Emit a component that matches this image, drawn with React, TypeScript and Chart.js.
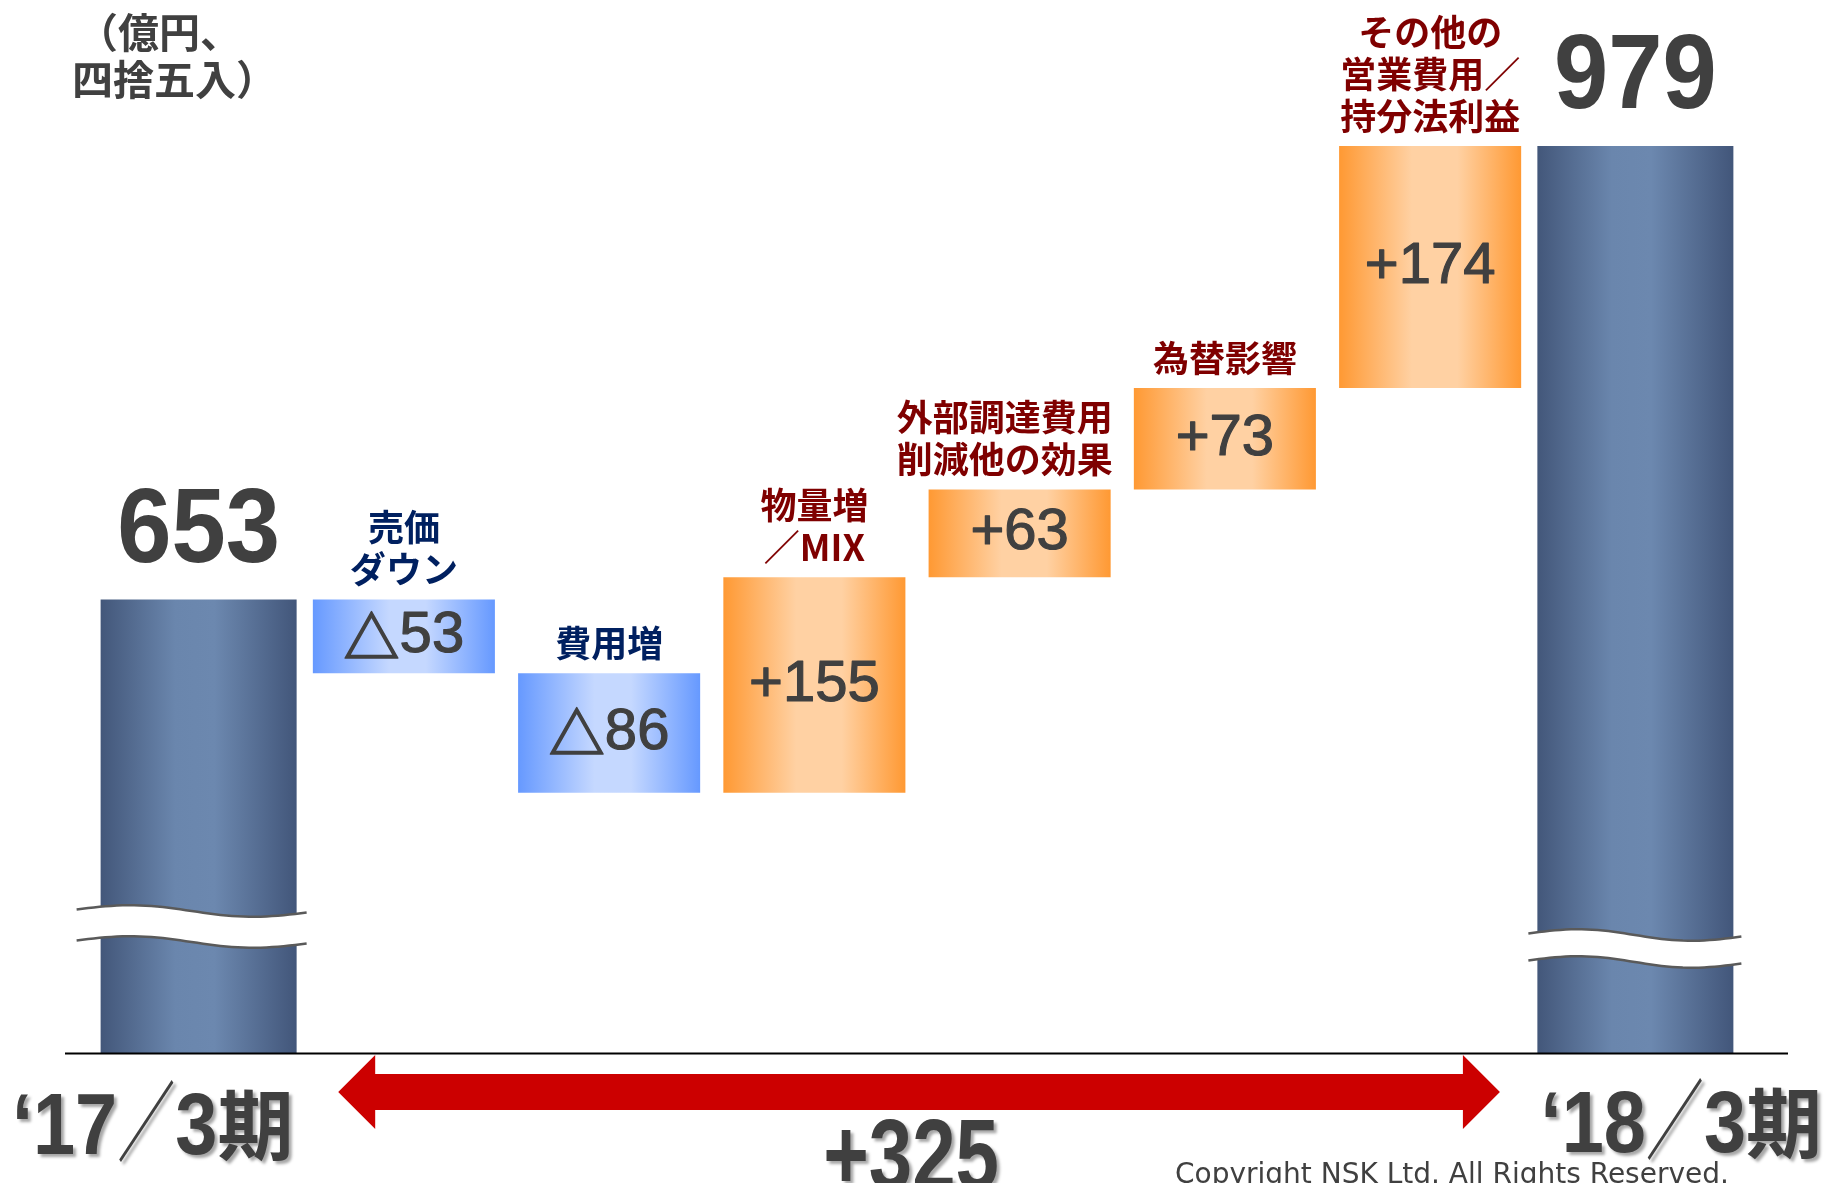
import React, { useEffect, useRef } from "react";
import { Chart, registerables } from "chart.js";

Chart.register(...registerables);

// ---------- data ----------
const CATEGORIES = [
  "‘17／3期",
  "売価ダウン",
  "費用増",
  "物量増／MIX",
  "外部調達費用削減他の効果",
  "為替影響",
  "その他の営業費用／持分法利益",
  "‘18／3期",
];
const STEP_LABELS = [
  ["売価", "ダウン"],
  ["費用増"],
  ["物量増", "／MIX"],
  ["外部調達費用", "削減他の効果"],
  ["為替影響"],
  ["その他の", "営業費用／", "持分法利益"],
];
const START_VALUE = 653;
const END_VALUE = 979;
const STEP_VALUES = [-53, -86, 155, 63, 73, 174];
const TOTAL_CHANGE = 325; // as printed (rounded)
const AXIS_BASE = 327; // value at the broken baseline
const PERIOD_LABELS = ["‘17／3期", "‘18／3期"];
const UNIT_LINES = ["（億円、", "四捨五入）"];
const COPYRIGHT = "Copyright NSK Ltd. All Rights Reserved.";

// ---------- styles ----------
const FONT_JP = '"Noto Sans CJK JP", sans-serif';
const FONT_LAT = '"Liberation Sans", Arial, "Noto Sans CJK JP", sans-serif';
const TEXT_GRAY = "#404040";
const TOTAL_STOPS: [number, string][] = [
  [0, "#43577A"],
  [0.38, "#6A86AD"],
  [0.58, "#6C88AF"],
  [1, "#42567A"],
];
const DOWN_STOPS: [number, string][] = [
  [0, "#6699FF"],
  [0.42, "#C5D8FF"],
  [0.62, "#C5D8FF"],
  [1, "#6699FF"],
];
const UP_STOPS: [number, string][] = [
  [0, "#FF9933"],
  [0.4, "#FFD1A3"],
  [0.65, "#FFD1A3"],
  [1, "#FF9933"],
];
const TOTAL_BAR_PCT = 0.955;
const STEP_BAR_PCT = 0.887;

function makeGrad(chart: any, index: number, pct: number, stops: [number, string][]) {
  const { ctx, chartArea, scales } = chart;
  if (!chartArea || !scales.x) return stops[0][1];
  const cw = (chartArea.right - chartArea.left) / CATEGORIES.length;
  const cx = scales.x.getPixelForValue(index);
  const half = (cw * pct) / 2;
  const g = ctx.createLinearGradient(cx - half, 0, cx + half, 0);
  stops.forEach(([o, c]) => g.addColorStop(o, c));
  return g;
}

type Seg = { t: string; font: string; sx: number; stroke?: number };
function drawSegs(ctx: CanvasRenderingContext2D, segs: Seg[], x: number, y: number, align: "left" | "right" | "center") {
  const widths = segs.map((s) => {
    ctx.font = s.font;
    return ctx.measureText(s.t).width * s.sx;
  });
  const total = widths.reduce((a, b) => a + b, 0);
  let cx = align === "left" ? x : align === "right" ? x - total : x - total / 2;
  segs.forEach((s, i) => {
    ctx.save();
    ctx.font = s.font;
    ctx.textAlign = "left";
    ctx.translate(cx, y);
    ctx.scale(s.sx, 1);
    ctx.fillText(s.t, 0, 0);
    if (s.stroke) {
      ctx.shadowColor = "transparent";
      ctx.strokeStyle = ctx.fillStyle as string;
      ctx.lineWidth = s.stroke;
      ctx.lineJoin = "round";
      ctx.strokeText(s.t, 0, 0);
    }
    ctx.restore();
    cx += widths[i];
  });
}

function periodSegs(label: string): Seg[] {
  const m = label.match(/^(.+?)／(\d+)(.+)$/);
  const year = m ? m[1] : label;
  const month = m ? m[2] : "";
  const suffix = m ? m[3] : "";
  return [
    { t: year, font: `bold 88px ${FONT_LAT}`, sx: 0.86 },
    { t: "／", font: `normal 88px ${FONT_JP}`, sx: 0.66 },
    { t: month, font: `bold 88px ${FONT_LAT}`, sx: 0.86 },
    { t: suffix, font: `bold 76px ${FONT_JP}`, sx: 1 },
  ];
}

function wave(ctx: CanvasRenderingContext2D, x0: number, x1: number, yc: number, amp: number, tilt: number, reverse = false) {
  const n = 40;
  for (let k = 0; k <= n; k++) {
    const t = reverse ? 1 - k / n : k / n;
    const px = x0 + t * (x1 - x0);
    const py = yc - amp * Math.sin(2 * Math.PI * t) + tilt * t;
    if (k === 0 && !reverse) ctx.moveTo(px, py);
    else ctx.lineTo(px, py);
  }
}

function drawBreak(ctx: CanvasRenderingContext2D, x0: number, x1: number, yc: number, gap: number) {
  const amp = 5;
  const tilt = 3;
  ctx.save();
  ctx.beginPath();
  wave(ctx, x0, x1, yc - gap / 2, amp, tilt);
  wave(ctx, x0, x1, yc + gap / 2, amp, tilt, true);
  ctx.closePath();
  ctx.fillStyle = "#ffffff";
  ctx.fill();
  ctx.strokeStyle = "#5a5a5a";
  ctx.lineWidth = 2.5;
  ctx.beginPath();
  wave(ctx, x0, x1, yc - gap / 2, amp, tilt);
  ctx.stroke();
  ctx.beginPath();
  wave(ctx, x0, x1, yc + gap / 2, amp, tilt);
  ctx.stroke();
  ctx.restore();
}

const overlayPlugin = {
  id: "overlay",
  afterDatasetsDraw(chart: any) {
    const { ctx, chartArea, scales } = chart;
    const totals = chart.getDatasetMeta(0).data;
    const steps = chart.getDatasetMeta(1).data;
    const n = CATEGORIES.length;
    ctx.save();

    // broken-axis marks on the two total bars
    const first = totals[0].getProps(["x", "width"], true);
    const last = totals[n - 1].getProps(["x", "width"], true);
    drawBreak(ctx, first.x - first.width / 2 - 24, first.x + first.width / 2 + 10, chartArea.bottom - 128, 31);
    drawBreak(ctx, last.x - last.width / 2 - 9, last.x + last.width / 2 + 8, chartArea.bottom - 106, 27);

    // baseline
    ctx.strokeStyle = "#000";
    ctx.lineWidth = 2;
    ctx.beginPath();
    ctx.moveTo(chartArea.left - 31, chartArea.bottom + 0.5);
    ctx.lineTo(chartArea.right + 50, chartArea.bottom + 0.5);
    ctx.stroke();

    // total labels
    ctx.fillStyle = TEXT_GRAY;
    ctx.textBaseline = "alphabetic";
    [
      [0, START_VALUE],
      [n - 1, END_VALUE],
    ].forEach(([idx, v]) => {
      const el = totals[idx].getProps(["x", "y", "base"], true);
      const top = Math.min(el.y, el.base);
      drawSegs(ctx, [{ t: String(v), font: `bold 106px ${FONT_LAT}`, sx: 0.92 }], el.x, top - 38, "center");
    });

    // step bars: value inside, caption above
    for (let i = 1; i < n - 1; i++) {
      const el = steps[i].getProps(["x", "y", "base", "width"], true);
      const v = STEP_VALUES[i - 1];
      const top = Math.min(el.y, el.base);
      const bottom = Math.max(el.y, el.base);
      ctx.fillStyle = TEXT_GRAY;
      ctx.textBaseline = "middle";
      const valSegs: Seg[] =
        v < 0
          ? [
              { t: "△", font: `bold 56px ${FONT_JP}`, sx: 1, stroke: 1.5 },
              { t: String(Math.abs(v)), font: `normal 58px ${FONT_LAT}`, sx: 1, stroke: 1.2 },
            ]
          : [{ t: "+" + v, font: `normal 58px ${FONT_LAT}`, sx: 1, stroke: 1.2 }];
      drawSegs(ctx, valSegs, el.x, (top + bottom) / 2, "center");

      const lines = STEP_LABELS[i - 1];
      ctx.fillStyle = v < 0 ? "#002060" : "#7F0000";
      ctx.font = `bold 36px ${FONT_JP}`;
      lines.forEach((line, k) => {
        const cy = top - 30 - (lines.length - 1 - k) * 42;
        const w = ctx.measureText(line).width;
        if (w > el.width) {
          ctx.textAlign = "right";
          ctx.fillText(line, el.x + el.width / 2 + 2, cy);
        } else {
          ctx.textAlign = "center";
          ctx.fillText(line, el.x, cy);
        }
      });
    }

    // unit note
    ctx.fillStyle = TEXT_GRAY;
    ctx.font = `bold 41px ${FONT_JP}`;
    ctx.textAlign = "left";
    ctx.textBaseline = "middle";
    ctx.fillText(UNIT_LINES[0], 77, 32);
    ctx.fillText(UNIT_LINES[1], 72, 79);

    // red double arrow
    const cw = (chartArea.right - chartArea.left) / n;
    const ax0 = scales.x.getPixelForValue(1) - 0.32 * cw;
    const ax1 = scales.x.getPixelForValue(n - 2) + 0.34 * cw;
    const ay = chartArea.bottom + 39;
    const head = 37;
    const hh = 37;
    const sh = 18;
    ctx.fillStyle = "#CC0000";
    ctx.beginPath();
    ctx.moveTo(ax0, ay);
    ctx.lineTo(ax0 + head, ay - hh);
    ctx.lineTo(ax0 + head, ay - sh);
    ctx.lineTo(ax1 - head, ay - sh);
    ctx.lineTo(ax1 - head, ay - hh);
    ctx.lineTo(ax1, ay);
    ctx.lineTo(ax1 - head, ay + hh);
    ctx.lineTo(ax1 - head, ay + sh);
    ctx.lineTo(ax0 + head, ay + sh);
    ctx.lineTo(ax0 + head, ay + hh);
    ctx.closePath();
    ctx.fill();

    // shadowed period labels and total change
    ctx.save();
    ctx.fillStyle = TEXT_GRAY;
    ctx.textBaseline = "alphabetic";
    ctx.shadowColor = "rgba(0,0,0,0.35)";
    ctx.shadowOffsetX = 3;
    ctx.shadowOffsetY = 3;
    ctx.shadowBlur = 3;
    drawSegs(ctx, periodSegs(PERIOD_LABELS[0]), 12, 1154, "left");
    drawSegs(ctx, periodSegs(PERIOD_LABELS[1]), chart.width - 6, 1152, "right");
    drawSegs(ctx, [{ t: "+" + TOTAL_CHANGE, font: `bold 100px ${FONT_LAT}`, sx: 0.78 }], (ax0 + ax1) / 2 - 8, 1189, "center");
    ctx.restore();

    // copyright
    ctx.fillStyle = TEXT_GRAY;
    ctx.font = `normal 28px "DejaVu Sans", Verdana, sans-serif`;
    ctx.textAlign = "left";
    ctx.textBaseline = "alphabetic";
    ctx.fillText(COPYRIGHT, 1175, 1183, 562);

    ctx.restore();
  },
};

export default function App() {
  const ref = useRef<HTMLCanvasElement | null>(null);
  useEffect(() => {
    if (!ref.current) return;
    const n = CATEGORIES.length;
    const totalData: any[] = CATEGORIES.map(() => null);
    totalData[0] = [AXIS_BASE, START_VALUE];
    totalData[n - 1] = [AXIS_BASE, END_VALUE];
    const stepData: any[] = CATEGORIES.map(() => null);
    let run = START_VALUE;
    STEP_VALUES.forEach((v, i) => {
      stepData[i + 1] = [run, run + v];
      run += v;
    });

    const chart = new Chart(ref.current, {
      type: "bar",
      data: {
        labels: CATEGORIES,
        datasets: [
          {
            data: totalData,
            grouped: false,
            barPercentage: TOTAL_BAR_PCT,
            categoryPercentage: 1,
            borderWidth: 0,
            borderSkipped: false,
            backgroundColor: (c: any) => makeGrad(c.chart, c.dataIndex, TOTAL_BAR_PCT, TOTAL_STOPS),
          } as any,
          {
            data: stepData,
            grouped: false,
            barPercentage: STEP_BAR_PCT,
            categoryPercentage: 1,
            borderWidth: 0,
            borderSkipped: false,
            backgroundColor: (c: any) => {
              const v = STEP_VALUES[c.dataIndex - 1] ?? 0;
              return makeGrad(c.chart, c.dataIndex, STEP_BAR_PCT, v < 0 ? DOWN_STOPS : UP_STOPS);
            },
          } as any,
        ],
      },
      options: {
        responsive: false,
        animation: false,
        devicePixelRatio: 1,
        layout: { padding: { left: 96, right: 90, top: 146, bottom: 130 } },
        scales: {
          x: { display: false, grid: { display: false } },
          y: { display: false, min: AXIS_BASE, max: END_VALUE, grid: { display: false } },
        },
        plugins: { legend: { display: false }, tooltip: { enabled: false } },
      },
      plugins: [overlayPlugin],
    });
    return () => chart.destroy();
  }, []);

  return (
    <div style={{ position: "fixed", left: 0, top: 0, width: 1828, height: 1183, background: "#fff", overflow: "hidden" }}>
      <canvas ref={ref} width={1828} height={1183} style={{ display: "block" }} />
    </div>
  );
}
